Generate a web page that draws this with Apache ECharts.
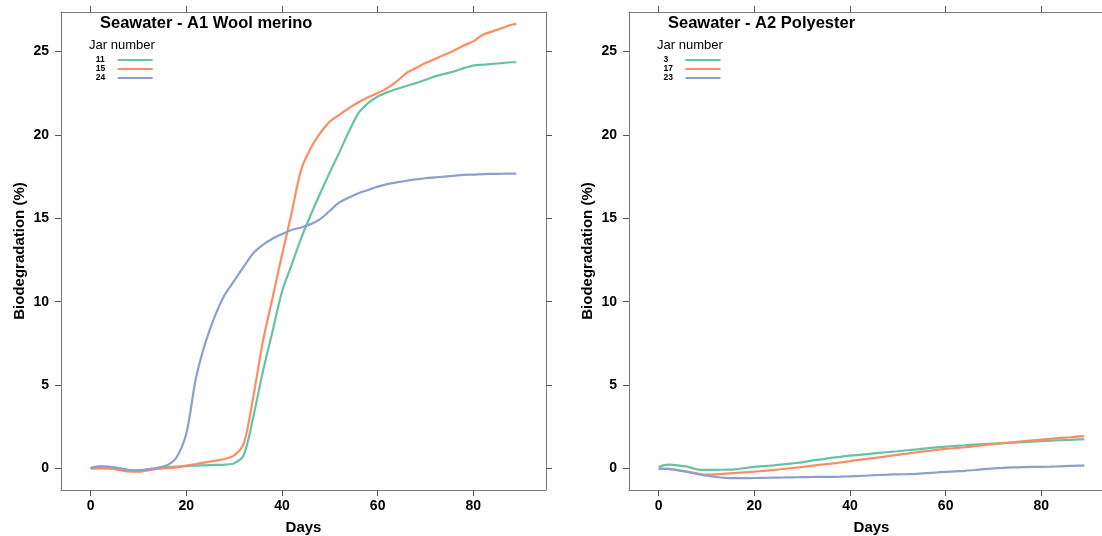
<!DOCTYPE html>
<html>
<head>
<meta charset="utf-8">
<script src="https://cdn.jsdelivr.net/npm/echarts@6/dist/echarts.min.js"></script>
<style>
  html, body { margin: 0; padding: 0; background: #fff; }
  #chart { width: 1102px; height: 536px; }
</style>
</head>
<body>
<div id="chart"></div>
<script>
// 采样天数
var days = [0, 2, 4, 6, 8, 10, 12, 14, 16, 18, 20, 22, 24, 26, 28, 30, 32, 34, 36, 38, 40, 42, 44,
    46, 48, 50, 52, 54, 56, 58, 60, 62, 64, 66, 68, 70, 72, 74, 76, 78, 80, 82, 84, 86, 88, 89];

// A1 Wool merino
var jar11 = [0.04, 0.12, 0.10, 0.02, -0.08, -0.12, -0.06, 0.02, 0.08, 0.12, 0.15, 0.18, 0.20, 0.22, 0.24, 0.32,
    0.8, 3.1, 5.8, 8.2, 10.6, 12.2, 13.8, 15.2, 16.5, 17.75, 18.95, 20.2, 21.3, 21.9, 22.3, 22.55, 22.75, 22.93,
    23.1, 23.3, 23.5, 23.65, 23.8, 24.0, 24.15, 24.2, 24.25, 24.3, 24.35, 24.35];
var jar15 = [0.0, 0.02, 0.0, -0.08, -0.17, -0.18, -0.1, -0.02, 0.03, 0.08, 0.18, 0.28, 0.38, 0.47, 0.58, 0.8,
    1.5, 4.3, 7.6, 10.2, 12.8, 15.3, 17.9, 19.2, 20.1, 20.8, 21.2, 21.6, 21.95, 22.25, 22.5, 22.8, 23.2, 23.7,
    24.0, 24.3, 24.55, 24.8, 25.05, 25.35, 25.6, 26.0, 26.2, 26.4, 26.6, 26.65];
var jar24 = [0.04, 0.13, 0.10, 0.02, -0.08, -0.10, -0.03, 0.05, 0.2, 0.7, 2.1, 5.4, 7.55, 9.15, 10.4, 11.25,
    12.1, 12.9, 13.4, 13.77, 14.05, 14.3, 14.45, 14.65, 14.95, 15.45, 15.95, 16.25, 16.5, 16.7, 16.9, 17.05,
    17.15, 17.25, 17.33, 17.4, 17.45, 17.5, 17.55, 17.6, 17.62, 17.65, 17.66, 17.67, 17.68, 17.68];

// A2 Polyester
var jar3 = [0.1, 0.24, 0.2, 0.12, -0.04, -0.08, -0.07, -0.06, -0.04, 0.03, 0.1, 0.15, 0.2, 0.26, 0.32, 0.38,
    0.48, 0.56, 0.64, 0.71, 0.78, 0.83, 0.88, 0.94, 0.99, 1.04, 1.1, 1.15, 1.21, 1.27, 1.32, 1.36, 1.4, 1.44,
    1.47, 1.5, 1.53, 1.56, 1.59, 1.62, 1.65, 1.68, 1.7, 1.72, 1.75, 1.76];
var jar17 = [0.0, -0.02, -0.08, -0.18, -0.28, -0.36, -0.34, -0.3, -0.26, -0.22, -0.18, -0.13, -0.08, -0.02,
    0.04, 0.1, 0.17, 0.24, 0.3, 0.37, 0.45, 0.53, 0.6, 0.67, 0.75, 0.83, 0.9, 0.98, 1.05, 1.12, 1.18, 1.23,
    1.28, 1.34, 1.4, 1.46, 1.52, 1.58, 1.64, 1.69, 1.74, 1.79, 1.84, 1.88, 1.93, 1.95];
var jar23 = [0.0, -0.02, -0.1, -0.2, -0.32, -0.42, -0.5, -0.55, -0.57, -0.57, -0.56, -0.55, -0.54, -0.53,
    -0.52, -0.51, -0.5, -0.49, -0.49, -0.48, -0.46, -0.44, -0.41, -0.38, -0.36, -0.34, -0.33, -0.31, -0.27,
    -0.23, -0.19, -0.16, -0.13, -0.08, -0.03, 0.01, 0.04, 0.07, 0.09, 0.1, 0.11, 0.12, 0.14, 0.16, 0.18, 0.2];

var xTicks = [0, 20, 40, 60, 80];
var yTicks = [0, 5, 10, 15, 20, 25];

var colors = ['#66C2A5', '#FC8D62', '#8DA0CB'];
var fontFam = '"Liberation Sans", Arial, sans-serif';

var chart = echarts.init(document.getElementById('chart'));

function pairs(vals) {
    return days.map(function(d, i) { return [d, vals[i]]; });
}

// 坐标轴：底/左带标签，顶/右只画刻度
function xAxisOf(grid, pos) {
    var main = pos === 'bottom';
    return {
        type: 'value', gridIndex: grid, position: pos,
        min: -6.2, max: 95.2,
        name: main ? 'Days' : '', nameLocation: 'middle', nameGap: 30,
        nameTextStyle: { fontSize: 15, fontWeight: 'bold', color: '#000', fontFamily: fontFam },
        axisLine: { show: true, onZero: false, lineStyle: { color: '#7a7a7a', width: 1 } },
        axisTick: { show: true, inside: false, length: 6, customValues: xTicks, lineStyle: { color: '#555' } },
        axisLabel: { show: main, customValues: xTicks, margin: 9, fontSize: 14, fontWeight: 'bold',
            color: '#000', fontFamily: fontFam },
        splitLine: { show: false }
    };
}

function yAxisOf(grid, pos) {
    var main = pos === 'left';
    return {
        type: 'value', gridIndex: grid, position: pos,
        min: -1.28, max: 27.36,
        name: main ? 'Biodegradation (%)' : '', nameLocation: 'middle', nameGap: 34,
        nameTextStyle: { fontSize: 15, fontWeight: 'bold', color: '#000', fontFamily: fontFam },
        axisLine: { show: true, onZero: false, lineStyle: { color: '#7a7a7a', width: 1 } },
        axisTick: { show: true, inside: false, length: 6, customValues: yTicks, lineStyle: { color: '#555' } },
        axisLabel: { show: main, customValues: yTicks, margin: 12, fontSize: 14, fontWeight: 'bold',
            color: '#000', fontFamily: fontFam },
        splitLine: { show: false }
    };
}

function lineSeries(name, vals, color, gi) {
    return {
        name: name, type: 'line',
        xAxisIndex: gi * 2, yAxisIndex: gi * 2,
        data: pairs(vals),
        showSymbol: false, symbol: 'none',
        smooth: 0.3,
        lineStyle: { color: color, width: 2.2 },
        itemStyle: { color: color }
    };
}

function legendOf(left, names) {
    return {
        data: names, orient: 'vertical', left: left, top: 55.5, padding: 0,
        align: 'right', icon: 'rect', itemWidth: 35, itemHeight: 2.2, itemGap: 0,
        selectedMode: false,
        formatter: '{n|{name}}',
        textStyle: {
            rich: { n: { width: 17, align: 'left', fontSize: 8.5, fontWeight: 'bold', lineHeight: 9.5,
                color: '#000', fontFamily: fontFam } }
        }
    };
}

var titleStyle = { fontSize: 16.5, fontWeight: 'bold', color: '#000', fontFamily: fontFam };
var subStyle = { fontSize: 13, fontWeight: 'normal', color: '#000', fontFamily: fontFam };

var option = {
    animation: false,
    backgroundColor: '#fff',
    title: [
        { text: 'Seawater - A1 Wool merino', left: 100, top: 15, padding: 0, textStyle: titleStyle },
        { text: 'Jar number', left: 89, top: 39, padding: 0, textStyle: subStyle },
        { text: 'Seawater - A2 Polyester', left: 668, top: 15, padding: 0, textStyle: titleStyle },
        { text: 'Jar number', left: 657, top: 39, padding: 0, textStyle: subStyle }
    ],
    legend: [
        legendOf(95.7, ['11', '15', '24']),
        legendOf(663.5, ['3', '17', '23'])
    ],
    grid: [
        { left: 61, top: 12, width: 485, height: 478, outerBoundsMode: 'none', containLabel: false },
        { left: 629, top: 12, width: 485, height: 478, outerBoundsMode: 'none', containLabel: false }
    ],
    xAxis: [xAxisOf(0, 'bottom'), xAxisOf(0, 'top'), xAxisOf(1, 'bottom'), xAxisOf(1, 'top')],
    yAxis: [yAxisOf(0, 'left'), yAxisOf(0, 'right'), yAxisOf(1, 'left'), yAxisOf(1, 'right')],
    series: [
        lineSeries('11', jar11, colors[0], 0),
        lineSeries('15', jar15, colors[1], 0),
        lineSeries('24', jar24, colors[2], 0),
        lineSeries('3', jar3, colors[0], 1),
        lineSeries('17', jar17, colors[1], 1),
        lineSeries('23', jar23, colors[2], 1)
    ]
};

chart.setOption(option);

window.addEventListener('resize', function() {
    chart.resize();
});
</script>
</body>
</html>
